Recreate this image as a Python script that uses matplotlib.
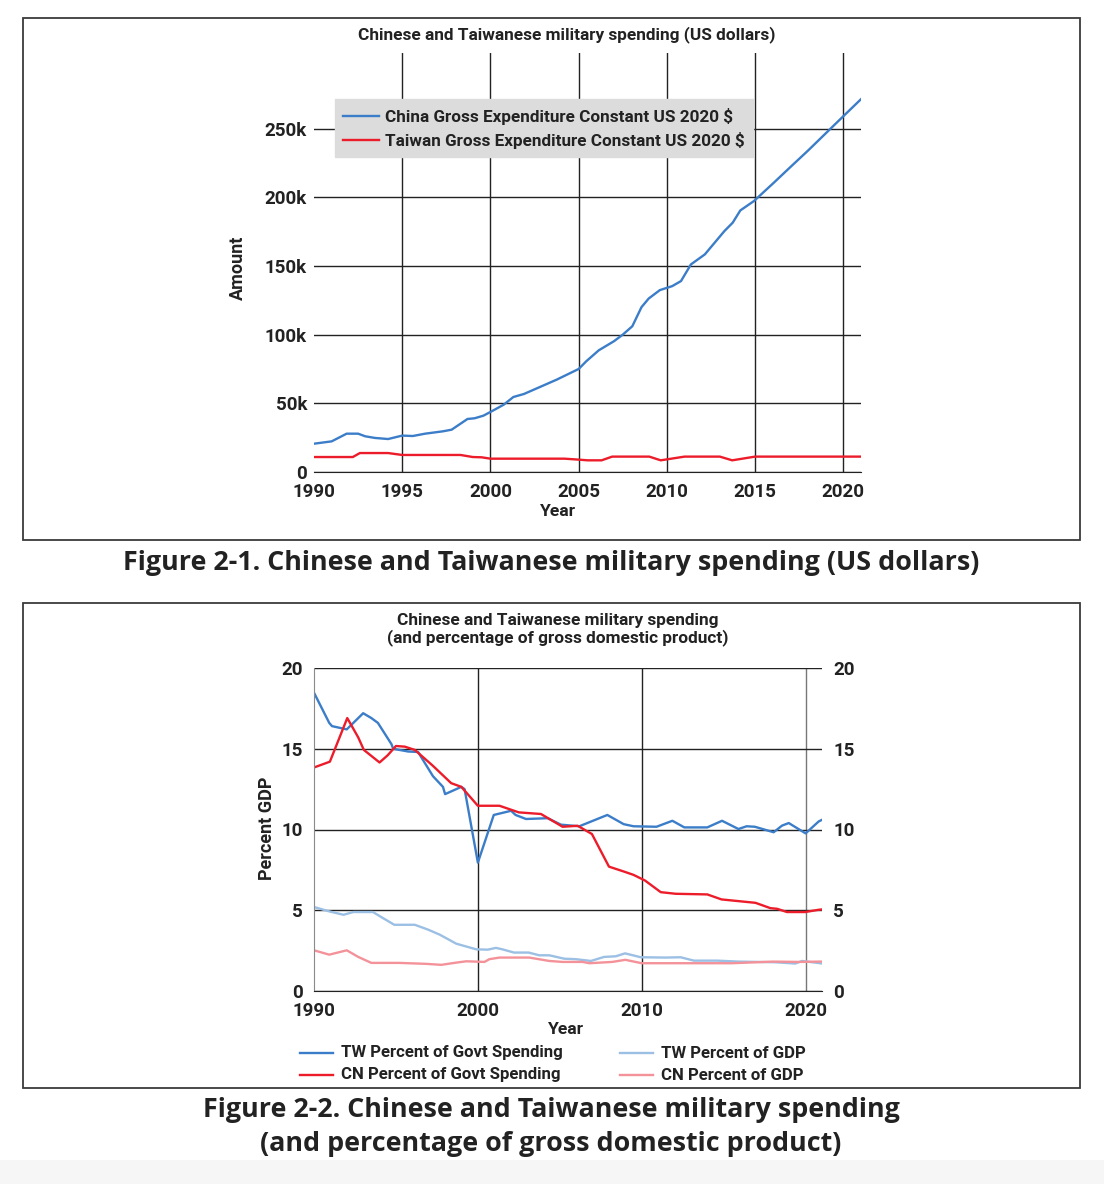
import matplotlib.pyplot as plt
from matplotlib.patches import Rectangle
from matplotlib.lines import Line2D
from matplotlib.ticker import FuncFormatter

# --- Figure 2-1: spending, thousands of constant 2020 US$ ---
cn_years = [1990, 1991, 1991.85, 1992.5, 1992.9, 1993.45, 1994.2, 1995, 1995.6, 1996.3, 1997.3,
            1997.8, 1998.7, 1999.1, 1999.6, 2000, 2000.75, 2001.3, 2001.9, 2003.75, 2005, 2005.43,
            2006.14, 2007, 2007.5, 2008.04, 2008.56, 2008.97, 2009.6, 2010.3, 2010.8, 2011.36,
            2012.15, 2013.26, 2013.73, 2014.16, 2014.94, 2016.06, 2017, 2018, 2019, 2020, 2021]
cn_spend = [20.6, 22.3, 27.9, 27.9, 26.0, 24.8, 24.0, 26.5, 26.2, 27.9, 29.6,
            30.8, 38.6, 39.1, 41.0, 43.7, 49.0, 54.6, 56.8, 67.2, 75.0, 80.6,
            88.6, 95.2, 100.0, 106.1, 120.0, 126.3, 132.4, 135.3, 139.0, 151.1,
            158.4, 175.4, 181.5, 190.4, 197.3, 210.6, 222.0, 234.0, 246.5, 259.0, 271.4]

tw_years = [1990, 1992.2, 1992.6, 1994.2, 1995, 1998.3, 1999, 1999.5, 2000, 2004.2, 2005, 2005.5,
            2006.3, 2006.9, 2009, 2009.65, 2011, 2013, 2013.7, 2015, 2021]
tw_spend = [10.9, 10.9, 13.8, 13.8, 12.4, 12.4, 10.9, 10.7, 9.7, 9.7, 9.0, 8.5,
            8.5, 11.2, 11.2, 8.5, 11.2, 11.2, 8.5, 11.2, 11.2]

# --- Figure 2-2: percentages ---
twg_years = [1990, 1990.93, 1991.1, 1992, 1993, 1993.5, 1993.9, 1994.73, 1994.83, 1995.74, 1996.35,
             1997.26, 1997.87, 1998, 1998.99, 1999.19, 2000, 2000.97, 2002.03, 2002.3, 2002.94,
             2004.26, 2005.07, 2006.19, 2007.9, 2008.9, 2009.5, 2010.9, 2011.87, 2012.6, 2014,
             2014.9, 2015.9, 2016.4, 2016.9, 2018.05, 2018.56, 2018.97, 2020, 2020.8, 2021]
tw_govt = [18.47, 16.6, 16.4, 16.2, 17.2, 16.9, 16.6, 15.28, 15.0, 14.83, 14.8,
           13.3, 12.64, 12.19, 12.64, 12.5, 7.95, 10.9, 11.16, 10.9, 10.65,
           10.7, 10.3, 10.2, 10.9, 10.33, 10.2, 10.17, 10.54, 10.13, 10.13,
           10.54, 10.03, 10.2, 10.17, 9.83, 10.24, 10.4, 9.76, 10.5, 10.6]

cng_years = [1990, 1990.97, 1992.03, 1992.7, 1993.04, 1994, 1994.5, 1995, 1995.54, 1996.15, 1997.26,
             1998.37, 1998.99, 2000, 2001.32, 2002.5, 2003.85, 2005.17, 2006.09, 2006.6, 2006.96,
             2008, 2008.9, 2009.5, 2010.2, 2011.16, 2012.07, 2014, 2014.87, 2016.94, 2017.85,
             2018.26, 2018.86, 2019.98, 2020.8, 2021]
cn_govt = [13.84, 14.2, 16.9, 15.7, 14.93, 14.15, 14.6, 15.17, 15.13, 14.93, 13.94,
           12.87, 12.64, 11.47, 11.47, 11.06, 10.96, 10.17, 10.23, 9.93, 9.72,
           7.7, 7.4, 7.19, 6.84, 6.12, 6.02, 5.98, 5.67, 5.46, 5.13,
           5.09, 4.89, 4.89, 5.03, 5.05]

twp_years = [1990, 1990.93, 1991.8, 1992.4, 1993.6, 1994.1, 1994.9, 1996.15, 1996.96, 1997.67, 1998.68,
             1999.9, 2000.6, 2001.1, 2001.5, 2002.2, 2003.1, 2003.75, 2004.36, 2005.27, 2005.98,
             2006.9, 2007.7, 2008.42, 2008.98, 2009.94, 2011.46, 2012.37, 2013.18, 2014.6, 2015.9,
             2018.15, 2019.37, 2019.78, 2020.8, 2021]
tw_gdp = [5.2, 4.93, 4.72, 4.89, 4.89, 4.58, 4.1, 4.1, 3.8, 3.49, 2.93,
          2.58, 2.56, 2.67, 2.58, 2.38, 2.38, 2.21, 2.21, 2.0, 1.97,
          1.86, 2.11, 2.15, 2.33, 2.09, 2.07, 2.09, 1.88, 1.88, 1.82,
          1.78, 1.7, 1.86, 1.73, 1.7]

cnp_years = [1990, 1990.93, 1992, 1992.7, 1993.5, 1995.2, 1996.86, 1997.77, 1998.7, 1999.3, 2000.4,
             2000.7, 2001.32, 2003.14, 2004.36, 2005.17, 2006.4, 2006.8, 2008.2, 2009, 2010,
             2015.5, 2018, 2019.6, 2020.8, 2021]
cn_gdp = [2.52, 2.25, 2.52, 2.11, 1.74, 1.74, 1.68, 1.62, 1.76, 1.84, 1.8,
          1.97, 2.07, 2.07, 1.86, 1.8, 1.8, 1.72, 1.8, 1.93, 1.72,
          1.72, 1.82, 1.8, 1.82, 1.82]

BLUE, RED = "#3b7dc8", "#ec1c2a"
LBLUE, PINK = "#9cbfe4", "#f4929a"
INK = "#222222"
W, H = 1104, 1184


def box(l, t, r, b):
    return [l / W, 1 - b / H, (r - l) / W, (b - t) / H]


def ftext(x, y, s, **kw):
    return fig.text(x / W, 1 - y / H, s, ha=kw.pop("ha", "center"), va="center", color=INK, **kw)


plt.rcParams["font.family"] = ["Roboto", "DejaVu Sans"]
plt.rcParams["font.weight"] = "bold"

fig = plt.figure(figsize=(W / 100, H / 100), dpi=100)
fig.add_artist(Rectangle((0, 0), 1, 24 / H, transform=fig.transFigure, color="#f6f6f6", lw=0, zorder=0))
for t, b in [(18, 540), (603, 1088)]:
    fig.add_artist(Rectangle((23 / W, 1 - b / H), (1080 - 23) / W, (b - t) / H,
                             transform=fig.transFigure, fill=False, ec="#3a3a3a", lw=1.3))

# ---------------- top chart ----------------
ax1 = fig.add_axes(box(314, 53, 861, 472))
ax1.plot(cn_years, cn_spend, color=BLUE, lw=1.7, label="China Gross Expenditure Constant US 2020 $")
ax1.plot(tw_years, tw_spend, color=RED, lw=1.7, label="Taiwan Gross Expenditure Constant US 2020 $")
ax1.set_xlim(1990, 2021)
ax1.set_ylim(0, 305)
ax1.set_xticks(range(1990, 2021, 5))
ax1.set_yticks(range(0, 251, 50))
ax1.yaxis.set_major_formatter(FuncFormatter(lambda v, p: "0" if v == 0 else f"{v:g}k"))
for s in ["top", "right", "left"]:
    ax1.spines[s].set_visible(False)
ax1.spines["bottom"].set_color(INK)
ax1.tick_params(length=0, labelsize=13.5, colors=INK)
ax1.tick_params(axis="x", pad=8)
ax1.tick_params(axis="y", pad=5)
ax1.grid(True, color=INK, lw=1.0)
ax1.set_axisbelow(True)
ax1.get_xgridlines()[0].set_visible(False)
leg = ax1.legend(loc="upper left", bbox_to_anchor=(0.038, 0.89), fontsize=12.3, frameon=True,
                 facecolor="#dcdcdc", edgecolor="#dcdcdc", framealpha=1, fancybox=False,
                 borderpad=0.5, borderaxespad=0, handlelength=2.1, handletextpad=0.35, labelspacing=0.42)
for tx in leg.get_texts():
    tx.set_color(INK)

ftext(567, 35, "Chinese and Taiwanese military spending (US dollars)", fontsize=12.4)
ftext(238, 268, "Amount", fontsize=13, rotation=90)
ftext(558, 512, "Year", fontsize=12.6)
ftext(551, 563, "Figure 2-1. Chinese and Taiwanese military spending (US dollars)",
      fontsize=19.4, family="Open Sans", weight="bold")

# ---------------- bottom chart ----------------
ax2 = fig.add_axes(box(314, 668, 822, 991))
l1, = ax2.plot(twg_years, tw_govt, color=BLUE, lw=1.7)
l2, = ax2.plot(cng_years, cn_govt, color=RED, lw=1.7)
l3, = ax2.plot(twp_years, tw_gdp, color=LBLUE, lw=1.7)
l4, = ax2.plot(cnp_years, cn_gdp, color=PINK, lw=1.7)
ax2.set_xlim(1990, 2021)
ax2.set_ylim(0, 20)
ax2.set_xticks([1990, 2000, 2010, 2020])
ax2.set_yticks(range(0, 21, 5))
for s in ["top", "right"]:
    ax2.spines[s].set_visible(False)
ax2.spines["left"].set_color("#8a8a8a")
ax2.spines["bottom"].set_color(INK)
ax2.tick_params(length=0, labelsize=13.5, colors=INK)
ax2.tick_params(axis="y", labelright=True, pad=8)
ax2.tick_params(axis="x", pad=8)
ax2.grid(True, color=INK, lw=1.0)
ax2.set_axisbelow(True)
xg = ax2.get_xgridlines()
xg[0].set_visible(False)
xg[-1].set_color("#777777")

ftext(558, 620, "Chinese and Taiwanese military spending", fontsize=12.4)
ftext(558, 638, "(and percentage of gross domestic product)", fontsize=12.4)
ftext(267, 828, "Percent GDP", fontsize=13, rotation=90)
ftext(566, 1029, "Year", fontsize=12.6)

legend_items = [(l1, "TW Percent of Govt Spending", 300, 1053), (l2, "CN Percent of Govt Spending", 300, 1075),
                (l3, "TW Percent of GDP", 620, 1053), (l4, "CN Percent of GDP", 620, 1075)]
for line, lab, x0, y0 in legend_items:
    fig.add_artist(Line2D([x0 / W, (x0 + 33) / W], [1 - y0 / H] * 2, transform=fig.transFigure,
                          color=line.get_color(), lw=1.7))
    ftext(x0 + 41, y0, lab, fontsize=12.1, ha="left")

ftext(551, 1110, "Figure 2-2. Chinese and Taiwanese military spending",
      fontsize=19.4, family="Open Sans", weight="bold")
ftext(551, 1144, "(and percentage of gross domestic product)",
      fontsize=19.4, family="Open Sans", weight="bold")

fig.savefig("out.png", dpi=100)
